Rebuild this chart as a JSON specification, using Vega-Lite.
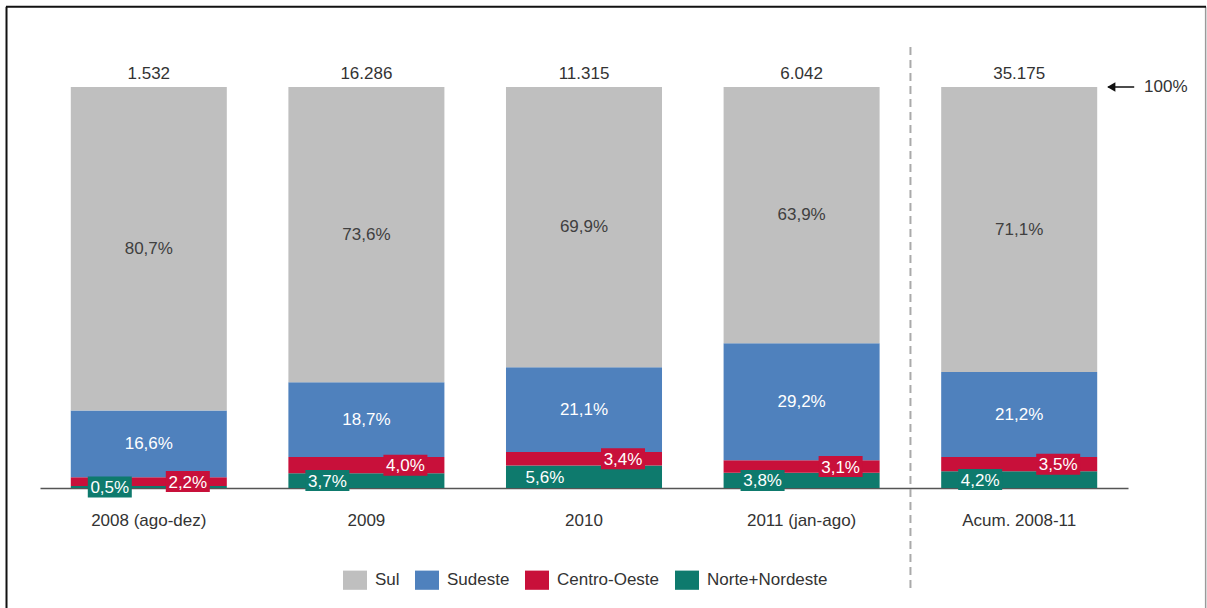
{
  "$schema": "https://vega.github.io/schema/vega-lite/v6.json",
  "width": 1088,
  "height": 401,
  "autosize": {"type": "none"},
  "padding": {"left": 40, "top": 87, "right": 79, "bottom": 120},
  "background": "white",
  "config": {
    "font": "Liberation Sans",
    "view": {"stroke": null}
  },
  "data": {
    "values": [
      {"ano": "2008 (ago-dez)", "regiao": "Norte+Nordeste", "ordem": 1, "valor": 0.5, "total": 1532},
      {"ano": "2008 (ago-dez)", "regiao": "Centro-Oeste", "ordem": 2, "valor": 2.2, "total": 1532},
      {"ano": "2008 (ago-dez)", "regiao": "Sudeste", "ordem": 3, "valor": 16.6, "total": 1532},
      {"ano": "2008 (ago-dez)", "regiao": "Sul", "ordem": 4, "valor": 80.7, "total": 1532},
      {"ano": "2009", "regiao": "Norte+Nordeste", "ordem": 1, "valor": 3.7, "total": 16286},
      {"ano": "2009", "regiao": "Centro-Oeste", "ordem": 2, "valor": 4.0, "total": 16286},
      {"ano": "2009", "regiao": "Sudeste", "ordem": 3, "valor": 18.7, "total": 16286},
      {"ano": "2009", "regiao": "Sul", "ordem": 4, "valor": 73.6, "total": 16286},
      {"ano": "2010", "regiao": "Norte+Nordeste", "ordem": 1, "valor": 5.6, "total": 11315},
      {"ano": "2010", "regiao": "Centro-Oeste", "ordem": 2, "valor": 3.4, "total": 11315},
      {"ano": "2010", "regiao": "Sudeste", "ordem": 3, "valor": 21.1, "total": 11315},
      {"ano": "2010", "regiao": "Sul", "ordem": 4, "valor": 69.9, "total": 11315},
      {"ano": "2011 (jan-ago)", "regiao": "Norte+Nordeste", "ordem": 1, "valor": 3.8, "total": 6042},
      {"ano": "2011 (jan-ago)", "regiao": "Centro-Oeste", "ordem": 2, "valor": 3.1, "total": 6042},
      {"ano": "2011 (jan-ago)", "regiao": "Sudeste", "ordem": 3, "valor": 29.2, "total": 6042},
      {"ano": "2011 (jan-ago)", "regiao": "Sul", "ordem": 4, "valor": 63.9, "total": 6042},
      {"ano": "Acum. 2008-11", "regiao": "Norte+Nordeste", "ordem": 1, "valor": 4.2, "total": 35175},
      {"ano": "Acum. 2008-11", "regiao": "Centro-Oeste", "ordem": 2, "valor": 3.5, "total": 35175},
      {"ano": "Acum. 2008-11", "regiao": "Sudeste", "ordem": 3, "valor": 21.2, "total": 35175},
      {"ano": "Acum. 2008-11", "regiao": "Sul", "ordem": 4, "valor": 71.1, "total": 35175}
    ]
  },
  "transform": [
    {"stack": "valor", "groupby": ["ano"], "sort": [{"field": "ordem", "order": "ascending"}], "as": ["y0", "y1"]},
    {"calculate": "(datum.y0 + datum.y1) / 2", "as": "ymid"},
    {"calculate": "replace(format(datum.valor, '.1f'), '.', ',') + '%'", "as": "rotulo"},
    {"calculate": "replace(format(datum.total, ',d'), ',', '.')", "as": "rotuloTotal"}
  ],
  "encoding": {
    "x": {
      "field": "ano", "type": "nominal", "sort": null,
      "scale": {"paddingInner": 0.283, "paddingOuter": 0.1415},
      "axis": {"title": null, "domainColor": "#555", "domainWidth": 1.5, "ticks": false, "tickSize": 0, "labelAngle": 0, "labelFontSize": 17, "labelColor": "#333", "labelPadding": 37, "labelBaseline": "alphabetic", "grid": false}
    }
  },
  "layer": [
    {
      "mark": {"type": "bar"},
      "encoding": {
        "y": {"field": "y0", "type": "quantitative", "scale": {"domain": [0, 100], "nice": false}, "axis": null},
        "y2": {"field": "y1"},
        "color": {
          "field": "regiao", "type": "nominal",
          "scale": {"domain": ["Sul", "Sudeste", "Centro-Oeste", "Norte+Nordeste"], "range": ["#bfbfbf", "#4f81bd", "#c8103a", "#0e7a6d"]},
          "legend": {"orient": "none", "legendX": 303, "legendY": 481, "direction": "horizontal", "title": null, "symbolType": "M-1,-0.8H1V0.8H-1Z", "symbolSize": 576, "symbolStrokeWidth": 0, "symbolOpacity": 1, "labelFontSize": 17, "labelColor": "#333", "labelOffset": 8, "columnPadding": 15}
        }
      }
    },
    {
      "data": {"values": [{}]},
      "mark": {"type": "rule", "color": "#111", "strokeWidth": 2},
      "encoding": {
        "x": {"datum": "2008 (ago-dez)", "bandPosition": -0.412},
        "y": {"datum": 120},
        "y2": {"datum": -50}
      }
    },
    {
      "data": {"values": [{}]},
      "mark": {"type": "rule", "color": "#9a9a9a", "strokeWidth": 1.5},
      "encoding": {
        "x": {"datum": "Acum. 2008-11", "bandPosition": 1.695},
        "y": {"datum": 120},
        "y2": {"datum": -50}
      }
    },
    {
      "data": {"values": [{}]},
      "mark": {"type": "tick", "color": "#111", "thickness": 2, "size": 1200, "opacity": 1, "xOffset": 22},
      "encoding": {
        "x": {"datum": "2010"},
        "y": {"datum": 120}
      }
    },
    {
      "data": {"values": [{}]},
      "mark": {"type": "rule", "color": "#aaa", "strokeWidth": 2, "strokeDash": [8, 5]},
      "encoding": {
        "x": {"datum": "Acum. 2008-11", "bandPosition": -0.197},
        "y": {"datum": 110},
        "y2": {"datum": -25.5}
      }
    },
    {
      "transform": [{"filter": "datum.regiao === 'Sul'"}],
      "mark": {"type": "text", "fontSize": 17, "color": "#404040", "baseline": "middle"},
      "encoding": {
        "y": {"field": "ymid", "type": "quantitative"},
        "text": {"field": "rotulo"}
      }
    },
    {
      "transform": [{"filter": "datum.regiao === 'Sul'"}],
      "mark": {"type": "text", "fontSize": 17, "color": "#333", "baseline": "alphabetic", "dy": -8},
      "encoding": {
        "y": {"field": "y1", "type": "quantitative"},
        "text": {"field": "rotuloTotal"}
      }
    },
    {
      "transform": [{"filter": "datum.regiao === 'Sudeste'"}],
      "mark": {"type": "text", "fontSize": 17, "color": "white", "baseline": "middle"},
      "encoding": {
        "y": {"field": "ymid", "type": "quantitative"},
        "text": {"field": "rotulo"}
      }
    },
    {
      "transform": [{"filter": "datum.regiao === 'Norte+Nordeste'"}],
      "mark": {"type": "point", "shape": "M-1,-0.477H1V0.477H-1Z", "size": 1936, "filled": true, "opacity": 1, "color": "#0e7a6d"},
      "encoding": {
        "x": {"field": "ano", "type": "nominal", "sort": null, "bandPosition": 0.25},
        "y": {"field": "ymid", "type": "quantitative"}
      }
    },
    {
      "transform": [{"filter": "datum.regiao === 'Norte+Nordeste'"}],
      "mark": {"type": "text", "fontSize": 17, "color": "white", "baseline": "middle", "dy": 1},
      "encoding": {
        "x": {"field": "ano", "type": "nominal", "sort": null, "bandPosition": 0.25},
        "y": {"field": "ymid", "type": "quantitative"},
        "text": {"field": "rotulo"}
      }
    },
    {
      "transform": [{"filter": "datum.regiao === 'Centro-Oeste'"}],
      "mark": {"type": "point", "shape": "M-1,-0.477H1V0.477H-1Z", "size": 1936, "filled": true, "opacity": 1, "color": "#c8103a"},
      "encoding": {
        "x": {"field": "ano", "type": "nominal", "sort": null, "bandPosition": 0.75},
        "y": {"field": "ymid", "type": "quantitative"}
      }
    },
    {
      "transform": [{"filter": "datum.regiao === 'Centro-Oeste'"}],
      "mark": {"type": "text", "fontSize": 17, "color": "white", "baseline": "middle", "dy": 1},
      "encoding": {
        "x": {"field": "ano", "type": "nominal", "sort": null, "bandPosition": 0.75},
        "y": {"field": "ymid", "type": "quantitative"},
        "text": {"field": "rotulo"}
      }
    },
    {
      "data": {"values": [{}]},
      "mark": {"type": "tick", "color": "#111", "thickness": 1.5, "size": 26, "opacity": 1, "xOffset": 102},
      "encoding": {
        "x": {"datum": "Acum. 2008-11"},
        "y": {"datum": 100}
      }
    },
    {
      "data": {"values": [{}]},
      "mark": {"type": "point", "shape": "triangle-left", "size": 90, "filled": true, "opacity": 1, "color": "#111"},
      "encoding": {
        "x": {"datum": "Acum. 2008-11", "bandPosition": 1.09},
        "y": {"datum": 100}
      }
    },
    {
      "data": {"values": [{}]},
      "mark": {"type": "text", "fontSize": 17, "color": "#333", "align": "left", "baseline": "middle", "text": "100%"},
      "encoding": {
        "x": {"datum": "Acum. 2008-11", "bandPosition": 1.3},
        "y": {"datum": 100}
      }
    }
  ]
}
